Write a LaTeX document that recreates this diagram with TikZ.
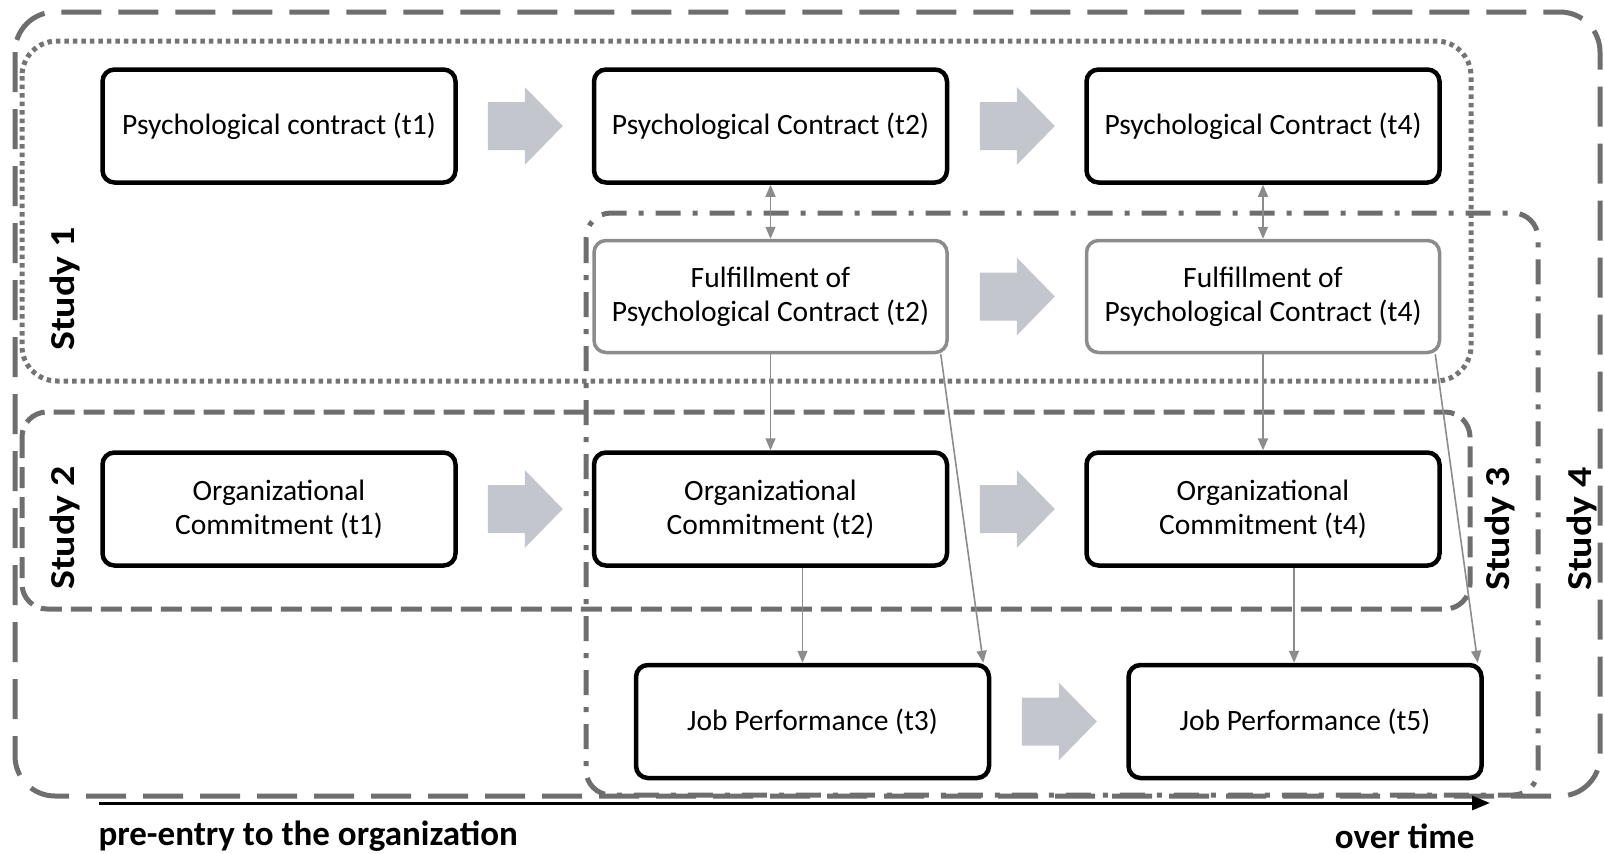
\documentclass[tikz,border=0pt]{standalone}
\usepackage{graphicx}
\usepackage{fontspec}
\setmainfont{Carlito}
\usetikzlibrary{arrows.meta,positioning,calc}

\definecolor{framegray}{HTML}{6E6E6E}
\definecolor{dotgray}{HTML}{747474}
\definecolor{linkgray}{HTML}{8C8C8C}
\definecolor{fillgray}{HTML}{C3C6CC}

% wide grey block arrow between two boxes
\newcommand{\blockarrow}[2]{%
  \fill[fillgray] ($(#1.east)!0.5!(#2.west)$) ++(-37,-24) -- ++(37,0) -- ++(0,-15)
    -- ++(38,39) -- ++(-38,39) -- ++(0,-15) -- ++(-37,0) -- cycle;}
\newcommand{\studytext}[1]{\scalebox{1.14}[1]{#1}}

\begin{document}
\begin{tikzpicture}[
  x=1pt, y=-1pt,
  box/.style={draw, fill=white, rounded corners=12pt, line width=4.5pt, align=center,
    minimum width=353pt, minimum height=113pt, inner sep=0pt,
    font=\fontsize{29.5}{34}\selectfont},
  fulbox/.style={box, draw=linkgray, line width=3.5pt, minimum height=112pt},
  link/.style={-{Triangle[length=12pt,width=10pt]}, linkgray, line width=1.6pt},
  linkboth/.style={link, {Triangle[length=12pt,width=10pt]}-{Triangle[length=12pt,width=10pt]}},
  studylabel/.style={rotate=90, font=\fontsize{35}{40}\selectfont\bfseries},
  timelabel/.style={font=\fontsize{35}{40}\selectfont\bfseries},
  frame/.style={framegray, line width=5pt}
]
  \useasboundingbox (0,0) rectangle (1604,854);

  % study frames
  \draw[frame, rounded corners=40pt, dash pattern=on 40pt off 17pt] (15,12) rectangle (1600,796);
  \draw[dotgray, line width=5pt, rounded corners=35pt, dash pattern=on 4.5pt off 4pt] (22,41) rectangle (1471,381);
  \draw[frame, rounded corners=25pt, dash pattern=on 21pt off 9pt] (22,412) rectangle (1470,609);
  \draw[frame, rounded corners=25pt, dash pattern=on 25pt off 12pt on 5pt off 12pt] (586,213) rectangle (1538,795);

  \node[studylabel] (s1) at (65,289) {\studytext{Study 1}};
  \node[studylabel] (s2) at (65,528) {\studytext{Study 2}};
  \node[studylabel] (s3) at (1500,529) {\studytext{Study 3}};
  \node[studylabel] (s4) at (1582,529) {\studytext{Study 4}};

  % boxes
  \node[box] (pc1) at (279,126) {Psychological contract (t1)};
  \node[box, right=134pt of pc1] (pc2) {Psychological Contract (t2)};
  \node[box, right=135pt of pc2] (pc4) {Psychological Contract (t4)};
  \node[fulbox, below=54pt of pc2] (f2) {Fulfillment of\\Psychological Contract (t2)};
  \node[fulbox, below=54pt of pc4] (f4) {Fulfillment of\\Psychological Contract (t4)};
  \node[box, below=96pt of f2] (oc2) {Organizational\\Commitment (t2)};
  \node[box, below=96pt of f4] (oc4) {Organizational\\Commitment (t4)};
  \node[box] (oc1) at (pc1 |- oc2) {Organizational\\Commitment (t1)};
  \node[box, below=95pt of oc2, xshift=42pt] (jp3) {Job Performance (t3)};
  \node[box, below=95pt of oc4, xshift=42pt] (jp5) {Job Performance (t5)};

  % block arrows
  \blockarrow{pc1}{pc2}
  \blockarrow{pc2}{pc4}
  \blockarrow{f2}{f4}
  \blockarrow{oc1}{oc2}
  \blockarrow{oc2}{oc4}
  \blockarrow{jp3}{jp5}

  % thin links
  \draw[linkboth] (pc2) -- (f2);
  \draw[linkboth] (pc4) -- (f4);
  \draw[link] (f2) -- (oc2);
  \draw[link] (f4) -- (oc4);
  \draw[link] ([xshift=32pt]oc2.south) -- ([xshift=32pt]oc2.south |- jp3.north);
  \draw[link] ([xshift=31pt]oc4.south) -- ([xshift=31pt]oc4.south |- jp5.north);
  \draw[link] ([xshift=-8pt]f2.south east) -- ([xshift=-8pt]jp3.north east);
  \draw[link] ([xshift=-6pt]f4.south east) -- ([xshift=-6pt]jp5.north east);

  % time line
  \coordinate (t0) at (99,803);
  \coordinate (t1) at (1490,803);
  \draw[line width=3pt, -{Triangle[length=18pt,width=14pt]}] (t0) -- (t1);
  \node[timelabel, anchor=west] (pre) at (95,836) {pre-entry to the organization};
  \node[timelabel, anchor=east] (late) at (1478,836) {over time};
\end{tikzpicture}
\end{document}
